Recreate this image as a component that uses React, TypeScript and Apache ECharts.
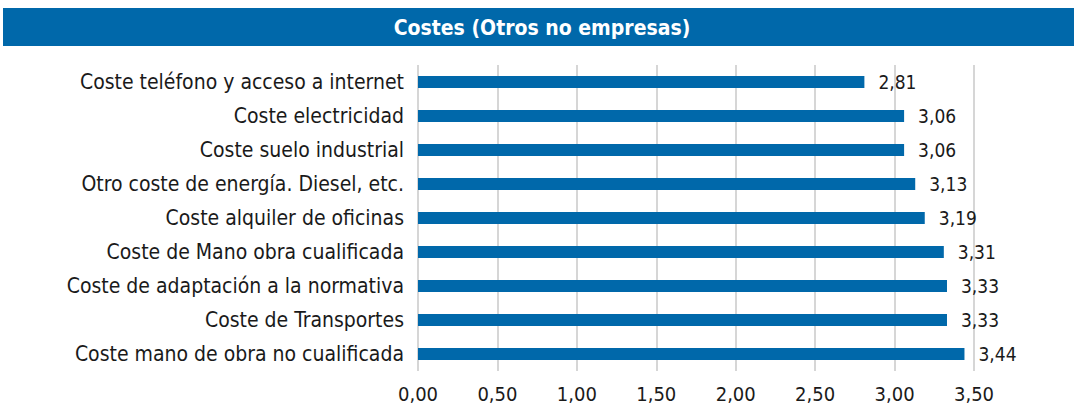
import React, { useEffect, useRef } from "react";
import * as echarts from "echarts";

const categories = [
  "Coste teléfono y acceso a internet",
  "Coste electricidad",
  "Coste suelo industrial",
  "Otro coste de energía. Diesel, etc.",
  "Coste alquiler de oficinas",
  "Coste de Mano obra cualificada",
  "Coste de adaptación a la normativa",
  "Coste de Transportes",
  "Coste mano de obra no cualificada",
];
const values = [2.81, 3.06, 3.06, 3.13, 3.19, 3.31, 3.33, 3.33, 3.44];
const title = "Costes (Otros no empresas)";

const FONT = "'DejaVu Sans Condensed', 'Roboto', sans-serif";

export default function App() {
  const ref = useRef<HTMLDivElement>(null);
  useEffect(() => {
    const chart = echarts.init(ref.current!, null, { renderer: "svg" });
    chart.setOption({
      animation: false,
      graphic: [
        {
          type: "rect",
          shape: { x: 3, y: 8, width: 1071, height: 38 },
          style: { fill: "#0068AA" },
        },
        {
          type: "text",
          x: 542,
          y: 28,
          style: {
            text: title,
            fill: "#fff",
            font: `bold 21px ${FONT}`,
            textAlign: "center",
            textVerticalAlign: "middle",
          },
        },
      ],
      grid: { left: 418, right: 100, top: 65, bottom: 39 },
      xAxis: {
        type: "value",
        min: 0,
        max: 3.5,
        interval: 0.5,
        axisLine: { show: false },
        axisTick: { show: false },
        splitLine: { show: true, lineStyle: { color: "#c8c8c8", width: 1.5 } },
        axisLabel: {
          color: "#1a1a1a",
          fontFamily: FONT,
          fontSize: 20,
          margin: 13,
          formatter: (v: number) => v.toFixed(2).replace(".", ","),
        },
      },
      yAxis: {
        type: "category",
        data: categories,
        inverse: true,
        axisLine: { show: false },
        axisTick: { show: false },
        axisLabel: { color: "#1a1a1a", fontFamily: FONT, fontSize: 21, margin: 14 },
      },
      series: [
        {
          type: "bar",
          data: values,
          barWidth: 12,
          itemStyle: { color: "#0068AA" },
          label: {
            show: true,
            position: "right",
            distance: 14,
            color: "#1a1a1a",
            fontFamily: FONT,
            fontSize: 19,
            formatter: (p: any) => p.value.toFixed(2).replace(".", ","),
          },
        },
      ],
    });
    return () => chart.dispose();
  }, []);
  return <div ref={ref} style={{ width: 1074, height: 410, position: "absolute", left: 0, top: 0 }} />;
}
